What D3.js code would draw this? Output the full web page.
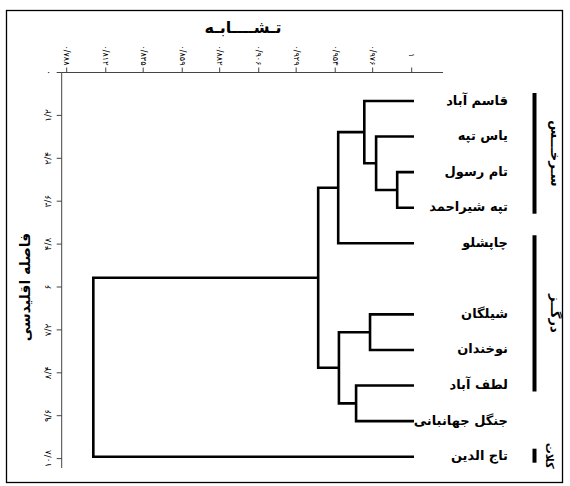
<!DOCTYPE html>
<html>
<head>
<meta charset="utf-8">
<script src="https://cdn.jsdelivr.net/npm/d3@7"></script>
<style>
  body { margin: 0; background: #fff; }
  svg text { font-family: "DejaVu Sans", sans-serif; fill: #000; }
</style>
</head>
<body>
<svg id="chart" width="570" height="486"></svg>
<script>
/* leaves, top to bottom ("" is the empty row between the two sub-trees) */
var leaf_Names = ["قاسم آباد", "یاس تپه", "تام رسول", "تپه شیراحمد", "چاپشلو",
                  "شیلگان", "نوخندان", "لطف آباد", "جنگل جهانبانی", "تاج الدین"];
var leaf_Rows = ["قاسم آباد", "یاس تپه", "تام رسول", "تپه شیراحمد", "چاپشلو", "",
                 "شیلگان", "نوخندان", "لطف آباد", "جنگل جهانبانی", "تاج الدین"];

/* linkage: [child a, child b, euclidean distance]; ids 0-9 are leaves, 10+ are merges */
var merges = [
	[2, 3, 0.47],
	[1, 10, 1.06],
	[5, 6, 1.23],
	[0, 11, 1.39],
	[7, 8, 1.62],
	[12, 14, 2.10],
	[13, 4, 2.12],
	[16, 15, 2.68],
	[17, 9, 8.97]
];

/* axes */
var distance_Ticks = [0, 1.2, 2.4, 3.6, 4.8, 6, 7.2, 8.4, 9.6, 10.8];
var similarity_Ticks = [0.788, 0.812, 0.835, 0.859, 0.882, 0.906, 0.929, 0.953, 0.976, 1];

/* groups: [label, first leaf, last leaf] */
var group_Names = ["سـرخـــس", "درگــز", "کلات"];
var group_First = ["قاسم آباد", "چاپشلو", "تاج الدین"];
var group_Last = ["تپه شیراحمد", "لطف آباد", "تاج الدین"];

var svg = d3.select("#chart");

function persian_Number(v, digits) {
	var s = (digits == null) ? String(v) : v.toFixed(digits);
	s = s.replace(".", "/");
	return s.replace(/[0-9]/g, function(c){ return "۰۱۲۳۴۵۶۷۸۹"[+c]; });
}

/* frame */
svg.append("rect")
	.attr("x", 6.5).attr("y", 10.5)
	.attr("width", 556).attr("height", 472)
	.attr("fill", "none").attr("stroke", "#000").attr("stroke-width", 1.3);

/* scales */
var leaf_X = 414;
var x_Distance = d3.scaleLinear().domain([0, 10.8]).range([leaf_X, leaf_X - 10.8 * 35.75]);
var y_Leaf = d3.scalePoint().domain(leaf_Rows).range([101, 456.7]);
var y_Distance = d3.scaleLinear().domain([0, 10.8]).range([72.5, 458.6]);
var x_Similarity = d3.scaleLinear().domain([0.788, 1]).range([66.7, 411.7]);

/* dendrogram */
var nodes = leaf_Names.map(function(name){
	return { x: x_Distance(0), y: y_Leaf(name) };
});
var links = [];
merges.forEach(function(m){
	var a = nodes[m[0]], b = nodes[m[1]];
	var x = x_Distance(m[2]);
	links.push([[a.x, a.y], [x, a.y], [x, b.y], [b.x, b.y]]);
	nodes.push({ x: x, y: (a.y + b.y) / 2 });
});

svg.append("g").selectAll("path")
	.data(links)
	.join("path")
	.attr("d", d3.line())
	.attr("fill", "none")
	.attr("stroke", "#000")
	.attr("stroke-width", 2.6)
	.attr("stroke-linejoin", "miter");

/* leaf labels */
svg.append("g").selectAll("text")
	.data(leaf_Names)
	.join("text")
	.attr("x", 508)
	.attr("y", function(d){ return y_Leaf(d) - 1; })
	.attr("dominant-baseline", "central")
	.attr("font-size", 13)
	.attr("font-weight", "bold")
	.attr("direction", "rtl")
	.attr("text-anchor", "start")
	.text(function(d){ return d; });

/* group bars and labels */
group_Names.forEach(function(name, i){
	var y1 = y_Leaf(group_First[i]) - 8, y2 = y_Leaf(group_Last[i]) + 6;
	svg.append("line")
		.attr("x1", 534.5).attr("x2", 534.5)
		.attr("y1", y1).attr("y2", y2)
		.attr("stroke", "#000").attr("stroke-width", 4);
	var cy = (y1 + y2) / 2;
	svg.append("text")
		.attr("transform", "translate(" + (i == 2 ? 549 : 555) + "," + cy + ") rotate(90)")
		.attr("text-anchor", "middle")
		.attr("dominant-baseline", "central")
		.attr("font-size", i == 2 ? 11 : 13)
		.attr("font-weight", "bold")
		.text(name);
});

/* top axis: similarity */
var top_Axis = svg.append("g").attr("transform", "translate(0,72.5)");
top_Axis.append("line")
	.attr("x1", 61.7).attr("x2", 443)
	.attr("stroke", "#444").attr("stroke-width", 1);
top_Axis.selectAll("line.tick")
	.data(similarity_Ticks)
	.join("line")
	.attr("class", "tick")
	.attr("x1", function(d){ return x_Similarity(d); })
	.attr("x2", function(d){ return x_Similarity(d); })
	.attr("y1", -5).attr("y2", 0)
	.attr("stroke", "#444");
top_Axis.selectAll("text")
	.data(similarity_Ticks)
	.join("text")
	.attr("transform", function(d){ return "translate(" + x_Similarity(d) + ",-17) rotate(90)"; })
	.attr("text-anchor", "middle")
	.attr("dominant-baseline", "central")
	.attr("font-size", 8)
	.attr("fill", "#333")
	.text(function(d){ return d == 1 ? "۱" : persian_Number(d, 3); });

svg.append("text")
	.attr("x", 243).attr("y", 33)
	.attr("text-anchor", "middle")
	.attr("font-size", 16)
	.attr("font-weight", "bold")
	.text("تـشــــابـه");

/* left axis: euclidean distance */
var left_Axis = svg.append("g").attr("transform", "translate(61.7,0)");
left_Axis.append("line")
	.attr("y1", 72.5).attr("y2", 468)
	.attr("stroke", "#444").attr("stroke-width", 1);
left_Axis.selectAll("line.tick")
	.data(distance_Ticks)
	.join("line")
	.attr("class", "tick")
	.attr("x1", -5).attr("x2", 0)
	.attr("y1", function(d){ return y_Distance(d); })
	.attr("y2", function(d){ return y_Distance(d); })
	.attr("stroke", "#444");
left_Axis.selectAll("text")
	.data(distance_Ticks)
	.join("text")
	.attr("transform", function(d){ return "translate(-14," + y_Distance(d) + ") rotate(-90)"; })
	.attr("text-anchor", "middle")
	.attr("dominant-baseline", "central")
	.attr("font-size", 9)
	.attr("fill", "#333")
	.text(function(d){ return persian_Number(d); });

svg.append("text")
	.attr("transform", "translate(25,287) rotate(-90)")
	.attr("text-anchor", "middle")
	.attr("dominant-baseline", "central")
	.attr("font-size", 14)
	.attr("font-weight", "bold")
	.text("فاصله اقلیدسی");
</script>
</body>
</html>
